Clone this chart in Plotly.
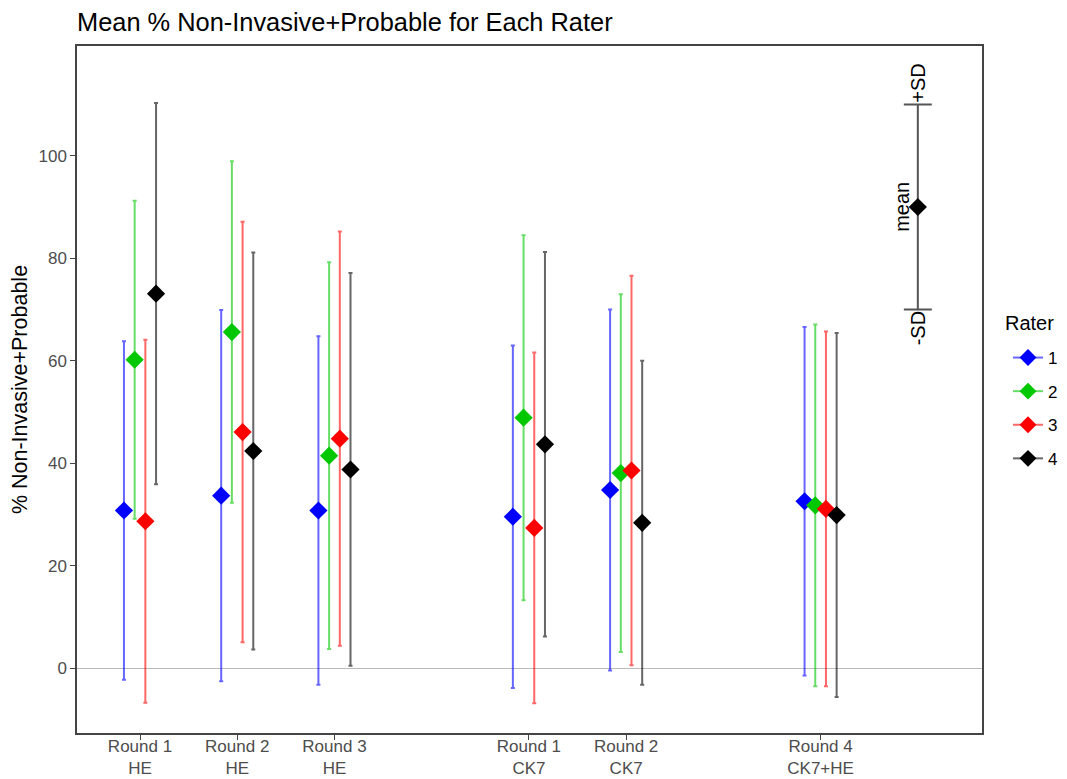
import plotly.graph_objects as go

# ---- data ----
groups = ["Round 1<br>HE", "Round 2<br>HE", "Round 3<br>HE",
          "Round 1<br>CK7", "Round 2<br>CK7", "Round 4<br>CK7+HE"]
group_pos = [1, 2, 3, 5, 6, 8]
raters = ["1", "2", "3", "4"]

mean_r1 = [30.8, 33.7, 30.8, 29.6, 34.8, 32.6]
sd_r1 = [33.0, 36.2, 34.0, 33.4, 35.2, 34.0]
mean_r2 = [60.2, 65.6, 41.5, 48.9, 38.1, 31.8]
sd_r2 = [31.0, 33.3, 37.7, 35.6, 34.9, 35.3]
mean_r3 = [28.7, 46.1, 44.8, 27.4, 38.6, 31.1]
sd_r3 = [35.4, 41.0, 40.4, 34.2, 38.0, 34.6]
mean_r4 = [73.1, 42.4, 38.8, 43.7, 28.4, 29.9]
sd_r4 = [37.2, 38.7, 38.3, 37.5, 31.6, 35.5]

key_pos = [9]
key_mean = [90]
key_sd = [20]
key_labels = ["+SD", "mean", "-SD"]

means = [mean_r1, mean_r2, mean_r3, mean_r4]
sds = [sd_r1, sd_r2, sd_r3, sd_r4]

# ---- style ----
colors = ["#0000FF", "#00C800", "#FF0000", "#000000"]
err_colors = ["rgba(0,0,255,0.6)", "rgba(0,200,0,0.6)",
              "rgba(255,0,0,0.6)", "rgba(0,0,0,0.6)"]
offsets = [-0.165, -0.055, 0.055, 0.165]
FONT = "Liberation Sans, Arial, sans-serif"

# page body has an 8px margin; figure is allowed to run past the window
W, H = 1110, 779
ML, MT = 69, 38
PW, PH = 905, 687
MR = W - ML - PW
MB = H - MT - PH

fig = go.Figure()

for i, r in enumerate(raters):
    xs = [p + offsets[i] for p in group_pos]
    fig.add_trace(go.Scatter(
        x=xs, y=means[i], mode="markers",
        marker=dict(symbol="diamond", size=14, color=colors[i]),
        error_y=dict(type="data", array=sds[i], visible=True,
                     color=err_colors[i], thickness=2, width=2),
        showlegend=False, hoverinfo="x+y"))
    # legend entry (line + diamond like ggplot errorbar+point key)
    fig.add_trace(go.Scatter(
        x=[None], y=[None], mode="lines+markers", name=r,
        legendgroup=r,
        line=dict(color=err_colors[i], width=2),
        marker=dict(symbol="diamond", size=13, color=colors[i])))

# key glyph
fig.add_trace(go.Scatter(
    x=key_pos, y=key_mean, mode="markers",
    marker=dict(symbol="diamond", size=14, color="black"),
    error_y=dict(type="data", array=key_sd, visible=True,
                 color="#555555", thickness=2, width=14),
    showlegend=False, hoverinfo="skip"))

kx = key_pos[0]
kfont = dict(size=20, color="black", family=FONT)
fig.add_annotation(x=kx, y=key_mean[0] + key_sd[0], text=key_labels[0],
                   textangle=-90, showarrow=False, yanchor="bottom",
                   yshift=0, font=kfont)
fig.add_annotation(x=kx, y=key_mean[0], text=key_labels[1],
                   textangle=-90, showarrow=False, xanchor="right",
                   xshift=-3, font=kfont)
fig.add_annotation(x=kx, y=key_mean[0] - key_sd[0], text=key_labels[2],
                   textangle=-90, showarrow=False, yanchor="top",
                   yshift=0, font=kfont)

# legend title
fig.add_annotation(x=(995 - ML) / PW, y=1 - (315 - MT) / PH, xref="paper", yref="paper",
                   text="Rater", showarrow=False, xanchor="left", yanchor="middle",
                   font=dict(size=20, color="black", family=FONT))

fig.update_layout(
    width=W, height=H,
    margin=dict(l=ML, r=MR, t=MT, b=MB, autoexpand=False),
    paper_bgcolor="white", plot_bgcolor="white",
    font=dict(family=FONT, color="black"),
    title=dict(text="Mean % Non-Invasive+Probable for Each Rater",
               x=ML / W, xanchor="left", y=1 - 14 / H, yanchor="middle",
               xref="container", yref="container",
               font=dict(size=25.4, color="black", family=FONT)),
    legend=dict(x=(1000 - ML) / PW, xanchor="left",
                y=1 - (332 - MT) / PH, yanchor="top",
                font=dict(size=17, color="black"), tracegroupgap=8.5,
                bgcolor="rgba(0,0,0,0)"),
    showlegend=True,
)

fig.update_xaxes(
    range=[0.352, 9.66], tickmode="array", tickvals=group_pos, ticktext=groups,
    showgrid=False, zeroline=False, showline=True, linecolor="#444444",
    linewidth=1.5, mirror=True, ticks="outside", ticklen=5, tickcolor="#444444",
    automargin=False, ticklabelstandoff=-8,
    tickfont=dict(size=17, color="#4D4D4D", family=FONT))

fig.update_yaxes(
    range=[-12.6, 121.4], tickvals=[0, 20, 40, 60, 80, 100],
    showgrid=False, zeroline=True, zerolinecolor="#BBBBBB", zerolinewidth=1,
    showline=True, linecolor="#444444", linewidth=1.5, mirror=True,
    ticks="outside", ticklen=5, tickcolor="#444444", automargin=False,
    tickfont=dict(size=17, color="#4D4D4D", family=FONT),
    title=dict(text="% Non-Invasive+Probable", standoff=6,
               font=dict(size=21.5, color="black", family=FONT)))

fig.write_html("out.html")
